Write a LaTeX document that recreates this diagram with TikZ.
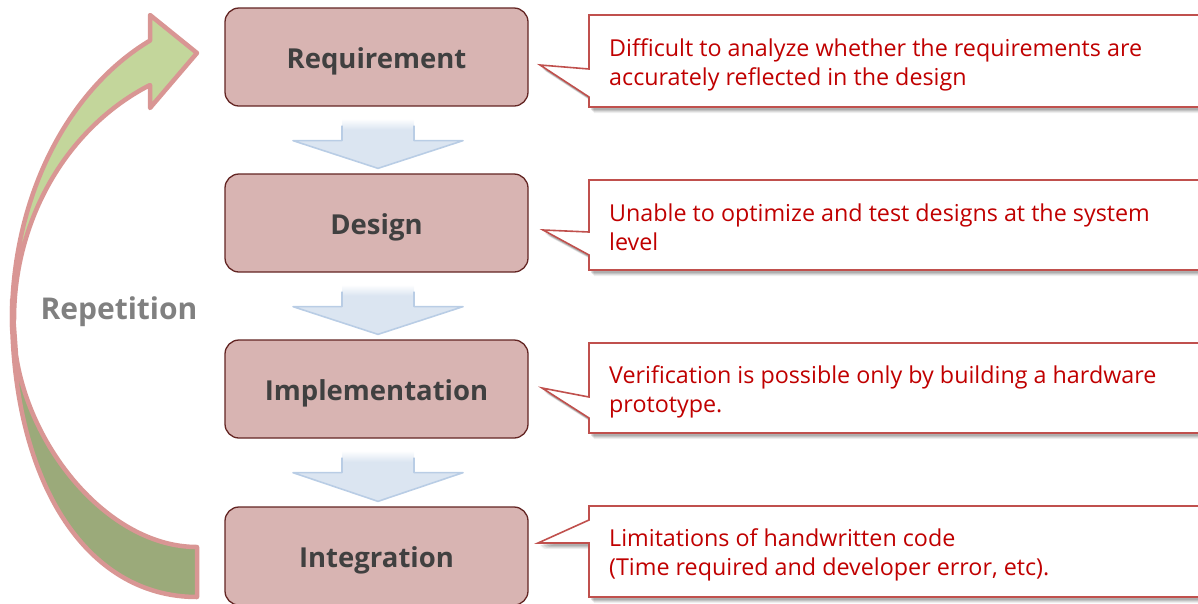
\documentclass[tikz,border=0pt]{standalone}
\usepackage{fontspec}
\setmainfont{Open Sans}
\usetikzlibrary{calc}

\definecolor{boxfill}{RGB}{216,180,178}
\definecolor{boxline}{RGB}{99,37,35}
\definecolor{boxtext}{RGB}{64,64,64}
\definecolor{notered}{RGB}{192,0,0}
\definecolor{noteline}{RGB}{192,80,77}
\definecolor{arrowblue}{RGB}{219,229,241}
\definecolor{arrowedge}{RGB}{185,205,229}
\definecolor{loopline}{RGB}{217,150,148}
\definecolor{loopfront}{RGB}{195,214,155}
\definecolor{loopback}{RGB}{155,170,122}
\definecolor{looptext}{RGB}{128,128,128}

% shaft of the flow arrows fades to white at its top
\pgfdeclareverticalshading{shaftfade}{100bp}{color(0bp)=(arrowblue); color(64bp)=(arrowblue); color(75bp)=(white); color(100bp)=(white)}

\tikzset{
  stagebox/.style={draw=boxline, line width=1.3pt, fill=boxfill, rounded corners=14pt,
    minimum width=303pt, minimum height=98pt, inner sep=0pt,
    text height=22pt, text depth=0pt,
    font=\bfseries\fontsize{27.5}{30}\selectfont, text=boxtext},
  notetext/.style={font=\fontsize{23.3}{29}\selectfont, text=notered, align=left,
    inner sep=0pt, anchor=west},
  noteframe/.style={draw=noteline, line width=1.6pt, fill=white, line join=miter},
  loopshape/.style={draw=loopline, line width=4.5pt, line join=round},
  looplabel/.style={font=\bfseries\fontsize{30}{32}\selectfont, text=looptext},
}

% flow arrow from the bottom of one stage to the top of the next
\newcommand{\stagearrow}[2]{%
  \coordinate (st) at ($(#1.south)+(1.5,12)$);
  \coordinate (sp) at ($(#2.north)+(1.5,-5)$);
  \shade[shading=shaftfade]
    ($(st)+(-36,0)$) -- ($(st)+(36,0)$) -- ($(st)+(36,22)$) -- ($(st)+(85,22)$)
    -- (sp) -- ($(st)+(-85,22)$) -- ($(st)+(-36,22)$) -- cycle;
  \draw[arrowedge, line width=1.6pt, line join=round]
    ($(st)+(36,7)$) -- ($(st)+(36,22)$) -- ($(st)+(85,22)$)
    -- (sp) -- ($(st)+(-85,22)$) -- ($(st)+(-36,22)$) -- ($(st)+(-36,7)$);
}

% callout frame: top, bottom, pointer tip, upper and lower pointer base
\newcommand{\noteframe}[5]{%
  \foreach \dx/\dy/\op in {5/6/0.06, 4/5/0.08, 3/4/0.10, 2/3/0.12}{
    \fill[black, opacity=\op, shift={(\dx,\dy)}]
      (1215,#1) -- (589,#1) -- (589,#4) -- #3 -- (589,#5) -- (589,#2) -- (1215,#2) -- cycle;
  }
  \path[noteframe]
    (1215,#1) -- (589,#1) -- (589,#4) -- #3 -- (589,#5) -- (589,#2) -- (1215,#2) -- cycle;
}

\begin{document}
\begin{tikzpicture}[x=1pt, y=-1pt]
\useasboundingbox (0,0) rectangle (1198,603);

% repetition loop: back face first, then the front face with its head
\path[loopshape, fill=loopback]
  (12,300) -- (12,310) .. controls (12,480) and (85,597) .. (197,597)
  -- (197,547) .. controls (110,547) and (30,450) .. (16,355) -- cycle;
\path[loopshape, fill=loopfront]
  (12,330) -- (12,320) arc[start angle=180, end angle=114.8, x radius=238pt, y radius=308pt]
  -- (150,15) -- (197,53) -- (150,108) -- (150,85)
  arc[start angle=115.07, end angle=180, x radius=236pt, y radius=259pt] -- cycle;
\node[looplabel] (rep) at (119,312) {Repetition};

% process stages
\node[stagebox] (req) at (376.5,57)  {Requirement};
\node[stagebox] (des) at (376.5,223) {Design};
\node[stagebox] (imp) at (376.5,389) {Implementation};
\node[stagebox] (int) at (376.5,556) {Integration};

\stagearrow{req}{des}
\stagearrow{des}{imp}
\stagearrow{imp}{int}

% callouts
\noteframe{15}{107}{(540,65)}{69}{97}
\node[notetext] (n1) at (609,65) {Difficult to analyze whether the requirements are\\accurately reflected in the design};

\noteframe{180}{270}{(543,230)}{232}{255}
\node[notetext] (n2) at (609,227) {Unable to optimize and test designs at the system\\level};

\noteframe{343}{433}{(542,388)}{397}{418}
\node[notetext] (n3) at (609,392) {Verification is possible only by building a hardware\\prototype.};

\noteframe{506}{597}{(538,543)}{520}{543}
\node[notetext] (n4) at (609,555) {Limitations of handwritten code\\(Time required and developer error, etc).};
\end{tikzpicture}
\end{document}
